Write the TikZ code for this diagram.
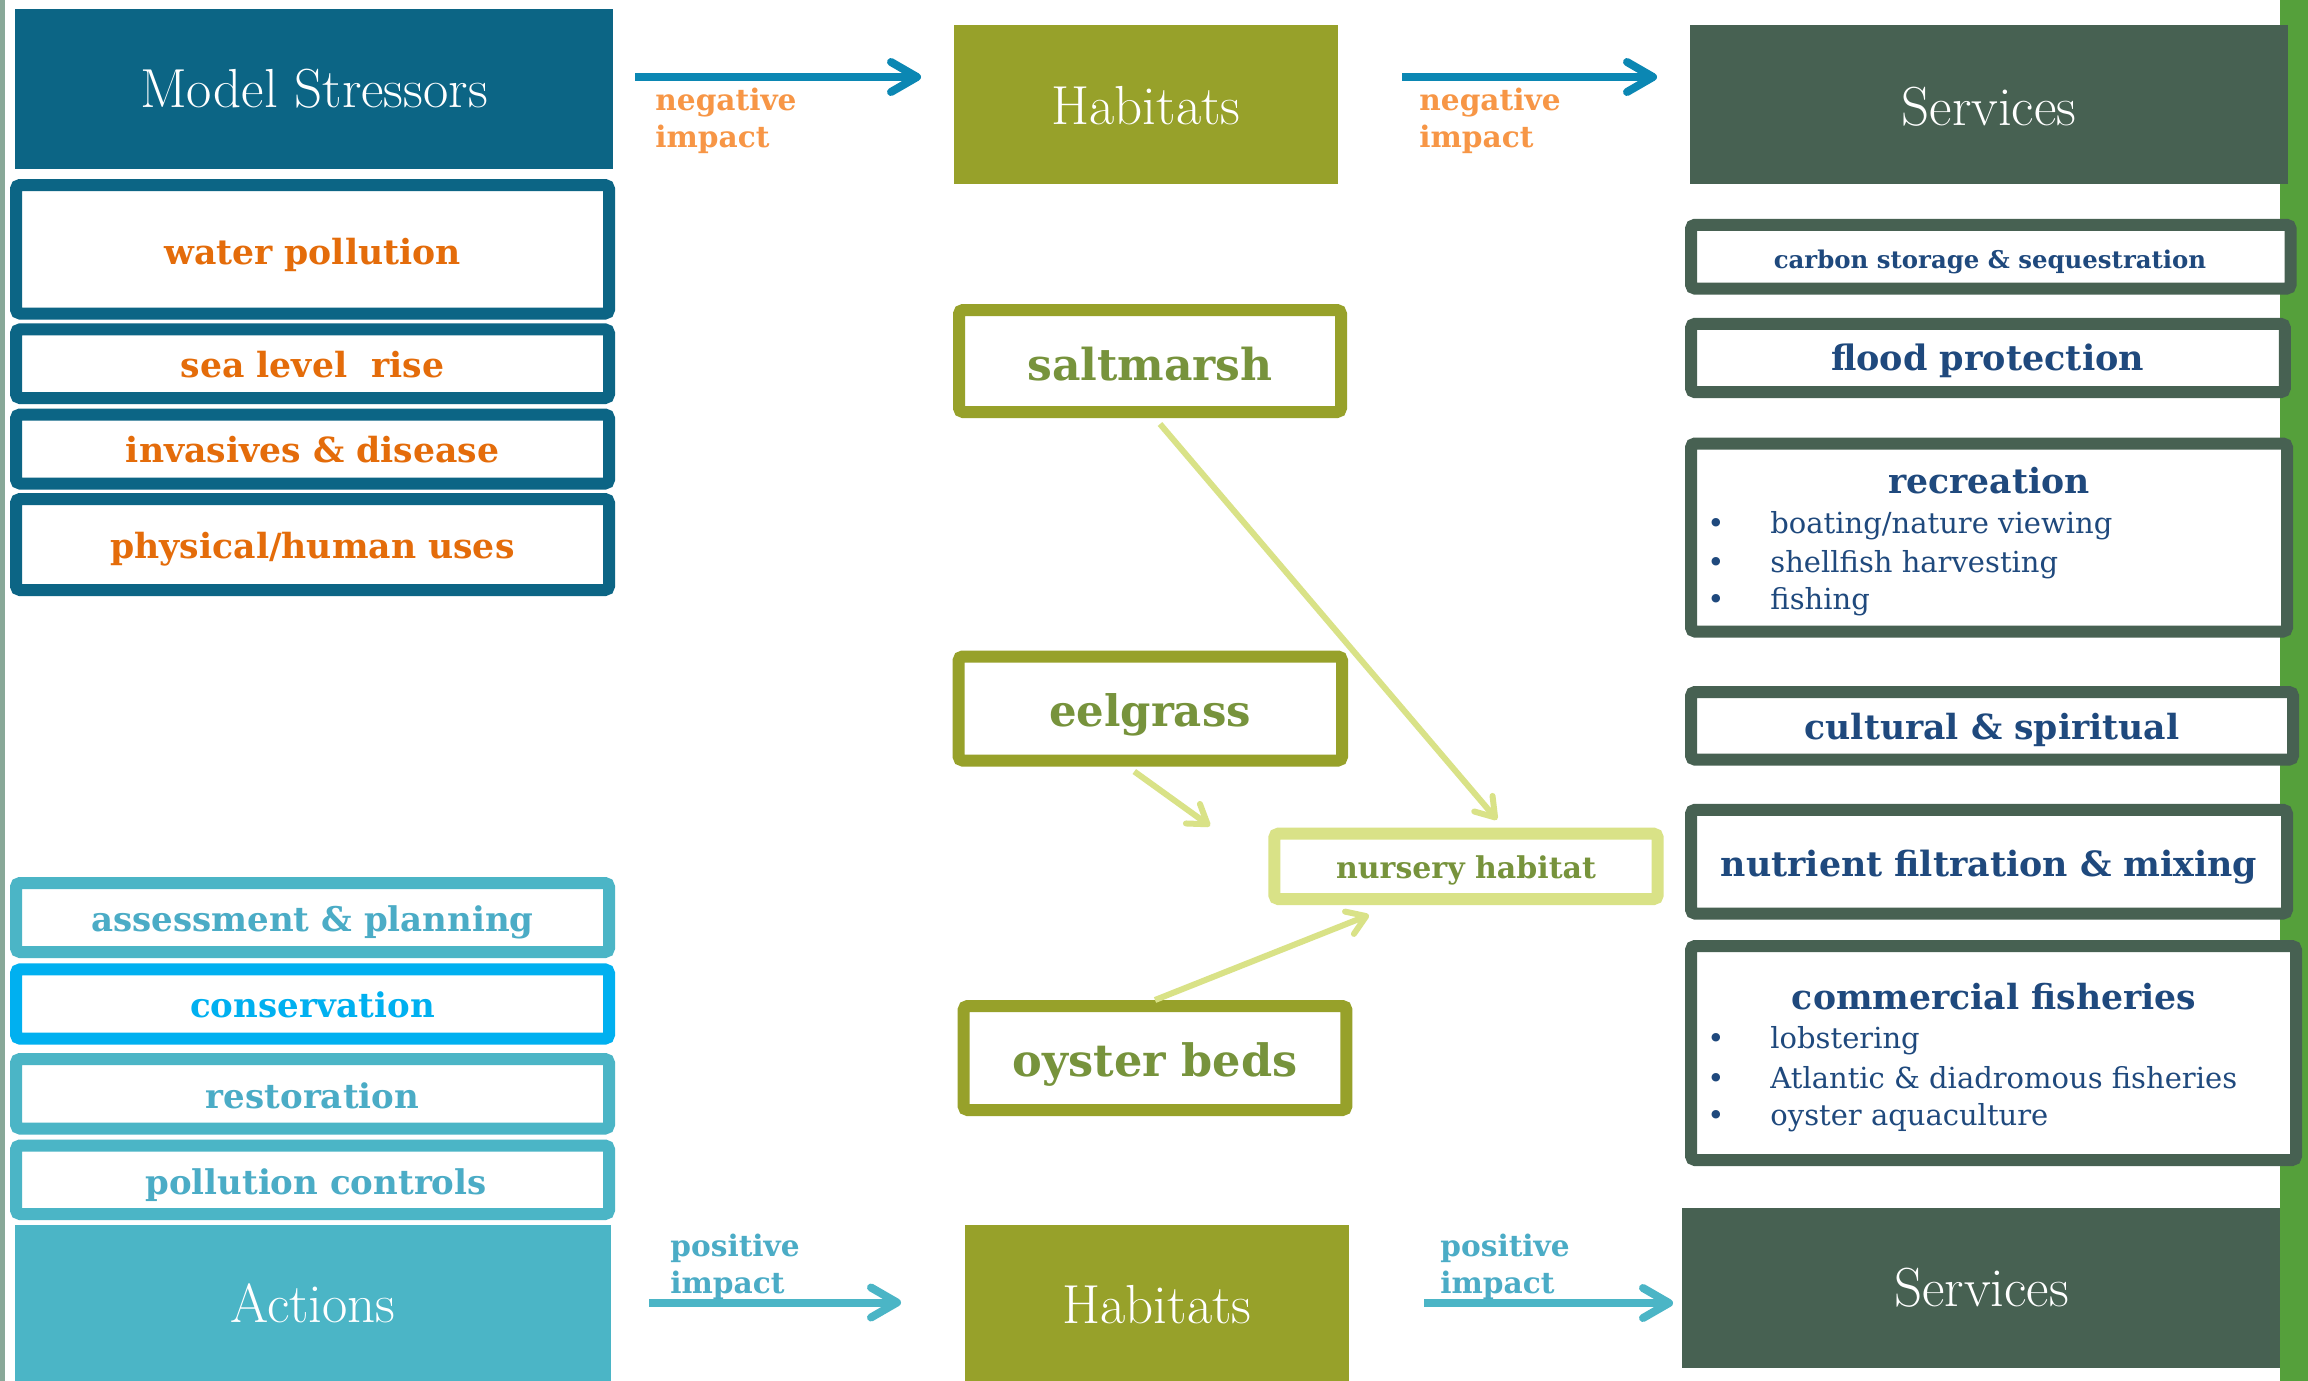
\documentclass[tikz,border=0pt]{standalone}
\usepackage{fontspec}
\newfontfamily\csfont{DejaVu Serif}
\usetikzlibrary{arrows.meta,calc}
\definecolor{stress}{HTML}{0C6585}
\definecolor{orng}{HTML}{E46C0A}
\definecolor{lorng}{HTML}{F79646}
\definecolor{topar}{HTML}{0B87B3}
\definecolor{hab}{HTML}{97A12A}
\definecolor{habtxt}{HTML}{77933C}
\definecolor{nurs}{HTML}{D9E287}
\definecolor{serv}{HTML}{476152}
\definecolor{navy}{HTML}{1F497D}
\definecolor{act}{HTML}{4BB5C6}
\definecolor{acttxt}{HTML}{4BACC6}
\definecolor{cons}{HTML}{00B0F0}
\definecolor{gstrip}{HTML}{55A03B}
\definecolor{lstrip}{HTML}{88A898}
\tikzset{
  hdrbox/.style={inner sep=0pt, draw=none},
  hdrtxt/.style={anchor=base, inner sep=0pt, text=white, font=\fontsize{27.5}{32}\selectfont},
  bx/.style={draw, line width=6pt, fill=white, rounded corners=2pt, inner sep=0pt},
  lbl/.style={anchor=base, inner sep=0pt, font=\csfont\bfseries\fontsize{17.3}{20}\selectfont},
  item/.style={anchor=base west, inner sep=0pt, text=navy, font=\csfont\fontsize{14.5}{17}\selectfont},
  imp/.style={anchor=base west, inner sep=0pt, align=left, font=\csfont\bfseries\fontsize{14.8}{18.5}\selectfont},
  bigarr/.style={line width=4pt, -{Straight Barb[length=13pt,width=15pt,round]}},
  smarr/.style={draw=nurs, line width=3pt, -{Straight Barb[length=9pt,width=12pt,round]}},
}
\begin{document}
\begin{tikzpicture}[x=0.5pt,y=-0.5pt]
\useasboundingbox (0,0) rectangle (2308,1381);
\fill[white] (0,0) rectangle (2308,1381);
\fill[lstrip] (0,0) rectangle (5,1381);
\fill[gstrip] (2280,0) rectangle (2308,1381);

% ---------- Stressors ----------
\node[hdrbox, fill=stress, minimum width=299pt, minimum height=80pt] (ms) at (314,89) {};
\node[hdrtxt] (mst) at (314,107.5) {Model Stressors};
\node[bx, draw=stress, minimum width=296.5pt, minimum height=64.25pt] (water) at (312.5,249.25) {};
\node[bx, draw=stress, minimum width=296.5pt, minimum height=34.3pt] (sea) at (312.5,363.7) {};
\node[bx, draw=stress, minimum width=296.5pt, minimum height=34.5pt] (inv) at (312.5,449) {};
\node[bx, draw=stress, minimum width=296.5pt, minimum height=45.5pt] (phys) at (312.5,544.5) {};
\node[lbl, text=orng] (watert) at (312.5,264) {water pollution};
\node[lbl, text=orng] (seat) at (312.5,377.6) {sea level\ \ rise};
\node[lbl, text=orng] (invt) at (312.5,462.6) {invasives \& disease};
\node[lbl, text=orng] (physt) at (312.5,558.3) {physical/human uses};

% ---------- Actions ----------
\node[bx, draw=act, minimum width=296.5pt, minimum height=34.5pt] (assess) at (312.5,917.5) {};
\node[bx, draw=cons, minimum width=296.5pt, minimum height=34.6pt] (cons) at (312.5,1004) {};
\node[bx, draw=act, minimum width=296.5pt, minimum height=34.75pt] (rest) at (312.5,1093.75) {};
\node[bx, draw=act, minimum width=296.5pt, minimum height=34.25pt] (poll) at (312.5,1179.75) {};
\node[lbl, text=acttxt, font=\csfont\bfseries\fontsize{17}{20}\selectfont] (assesst) at (312.5,931) {assessment \& planning};
\node[lbl, text=cons, font=\csfont\bfseries\fontsize{17}{20}\selectfont] (const) at (312.5,1017.6) {conservation};
\node[lbl, text=acttxt, font=\csfont\bfseries\fontsize{17}{20}\selectfont] (restt) at (312.5,1108) {restoration};
\node[lbl, text=acttxt, font=\csfont\bfseries\fontsize{17}{20}\selectfont] (pollt) at (316,1194.7) {pollution controls};
\node[hdrbox, fill=act, minimum width=298pt, minimum height=78pt] (act) at (313,1303) {};
\node[hdrtxt] (actt) at (313,1322) {Actions};

% ---------- Habitats ----------
\node[hdrbox, fill=hab, minimum width=192pt, minimum height=79.5pt] (habtop) at (1146,104.5) {};
\node[hdrtxt] (habtopt) at (1146,124) {Habitats};
\node[hdrbox, fill=hab, minimum width=192pt, minimum height=78pt] (habbot) at (1157,1303) {};
\node[hdrtxt] (habbott) at (1157,1323) {Habitats};

\node[bx, draw=hab, minimum width=191pt, minimum height=51pt] (salt) at (1150,361) {};
\node[bx, draw=hab, minimum width=191.7pt, minimum height=52pt] (eel) at (1150.3,708.5) {};
\node[bx, draw=hab, minimum width=191.4pt, minimum height=52pt] (oys) at (1155,1058) {};
\node[bx, draw=nurs, minimum width=191.7pt, minimum height=32.65pt] (nurs) at (1466,866.35) {};
\node[lbl, text=habtxt, font=\csfont\bfseries\fontsize{22}{26}\selectfont] (saltt) at (1150,380) {saltmarsh};
\node[lbl, text=habtxt, font=\csfont\bfseries\fontsize{21.7}{26}\selectfont] (eelt) at (1150,726) {eelgrass};
\node[lbl, text=habtxt, font=\csfont\bfseries\fontsize{22.3}{26}\selectfont] (oyst) at (1155,1076.5) {oyster beds};
\node[lbl, text=habtxt, font=\csfont\bfseries\fontsize{15}{18}\selectfont] (nurst) at (1466,878) {nursery habitat};

\coordinate (eelend) at (1210,826);
\coordinate (oysend) at (1369,915);
\draw[smarr] ($(salt.south)+(10,6)$) -- ($(nurs.north)+(31,-8)$);
\draw[smarr] ($(eel.south)+(-16,5)$) -- (eelend);
\draw[smarr] (oys.north) -- (oysend);

% ---------- Services ----------
\node[hdrbox, fill=serv, minimum width=298.8pt, minimum height=79.7pt] (servtop) at (1988.8,104.7) {};
\node[hdrtxt] (servtopt) at (1989,125) {Services};
\node[hdrbox, fill=serv, minimum width=298.75pt, minimum height=80pt] (servbot) at (1980.75,1288) {};
\node[hdrtxt] (servbott) at (1981.5,1306) {Services};

\node[bx, draw=serv, minimum width=299.8pt, minimum height=31.9pt] (carb) at (1990.8,256.7) {};
\node[bx, draw=serv, minimum width=296.9pt, minimum height=34.15pt] (flood) at (1987.9,358) {};
\node[bx, draw=serv, minimum width=298pt, minimum height=94pt] (recr) at (1989,537.5) {};
\node[bx, draw=serv, minimum width=301pt, minimum height=33.8pt] (cult) at (1992,725.8) {};
\node[bx, draw=serv, minimum width=298pt, minimum height=51.85pt] (nutr) at (1989,861.65) {};
\node[bx, draw=serv, minimum width=302.5pt, minimum height=107pt] (comm) at (1993.5,1053) {};

\node[lbl, text=navy, font=\csfont\bfseries\fontsize{12.2}{15}\selectfont] (carbt) at (1990,268) {carbon storage \& sequestration};
\node[lbl, text=navy, font=\csfont\bfseries\fontsize{17.5}{20}\selectfont] (floodt) at (1987.6,370.5) {flood protection};
\node[lbl, text=navy] (recrt) at (1989,493) {recreation};
\node[item] (b1) at (1707,533.5) {•};
\node[item] (b2) at (1707,572) {•};
\node[item] (b3) at (1707,609) {•};
\node[item] (r1) at (1770,533.5) {boating/nature viewing};
\node[item] (r2) at (1770,572) {shellfish harvesting};
\node[item] (r3) at (1770,609) {fishing};
\node[lbl, text=navy] (cultt) at (1992,739.5) {cultural \& spiritual};
\node[lbl, text=navy, font=\csfont\bfseries\fontsize{17.4}{20}\selectfont] (nutrt) at (1989,876) {nutrient filtration \& mixing};
\node[lbl, text=navy] (commt) at (1994,1009) {commercial fisheries};
\node[item] (b4) at (1707,1048.6) {•};
\node[item] (b5) at (1707,1088) {•};
\node[item] (b6) at (1707,1125.5) {•};
\node[item] (c1) at (1770,1048.6) {lobstering};
\node[item] (c2) at (1770,1088) {Atlantic \& diadromous fisheries};
\node[item] (c3) at (1770,1125.5) {oyster aquaculture};

% ---------- Impact arrows ----------
\coordinate (a1s) at (635,77);
\coordinate (a1e) at (921,77);
\coordinate (a2s) at (1402,77);
\coordinate (a2e) at (1657,77);
\coordinate (a3s) at (649,1302.5);
\coordinate (a3e) at (901,1302.5);
\coordinate (a4s) at (1424,1303);
\coordinate (a4e) at (1673,1303);
\draw[bigarr, draw=topar] (a1s) -- (a1e);
\draw[bigarr, draw=topar] (a2s) -- (a2e);
\draw[bigarr, draw=act] (a3s) -- (a3e);
\draw[bigarr, draw=act] (a4s) -- (a4e);
\node[imp, text=lorng] (n1) at (655,147) {negative\\impact};
\node[imp, text=lorng] (n2) at (1419,147) {negative\\impact};
\node[imp, text=acttxt] (p1) at (670,1293) {positive\\impact};
\node[imp, text=acttxt] (p2) at (1440,1293) {positive\\impact};
\end{tikzpicture}
\end{document}
